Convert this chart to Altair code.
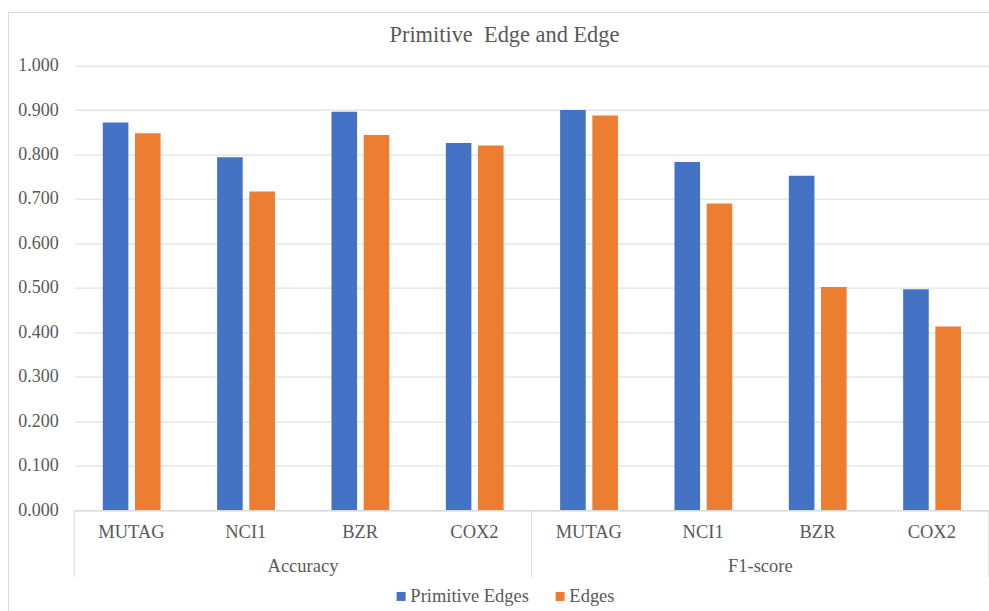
import altair as alt
import pandas as pd

# Scores per dataset, grouped by metric
metrics = ["Accuracy", "F1-score"]
datasets = ["MUTAG", "NCI1", "BZR", "COX2"]
series = ["Primitive Edges", "Edges"]
primitive_accuracy = [0.872, 0.794, 0.896, 0.826]
edges_accuracy = [0.848, 0.717, 0.844, 0.820]
primitive_f1 = [0.900, 0.783, 0.752, 0.497]
edges_f1 = [0.888, 0.690, 0.502, 0.413]
y_ticks = [0.0, 0.1, 0.2, 0.3, 0.4, 0.5, 0.6, 0.7, 0.8, 0.9, 1.0]

BLUE = "#4472C4"
ORANGE = "#ED7D31"
GREY_TEXT = "#595959"
GREY_LINE = "#D9D9D9"
FONT = "Liberation Serif"

W, H = 914.8, 444.5

values_by = {
    ("Accuracy", "Primitive Edges"): primitive_accuracy,
    ("Accuracy", "Edges"): edges_accuracy,
    ("F1-score", "Primitive Edges"): primitive_f1,
    ("F1-score", "Edges"): edges_f1,
}

keys = [f"{m}|{d}" for m in metrics for d in datasets]
rows = []
for m in metrics:
    for s in series:
        for d, v in zip(datasets, values_by[(m, s)]):
            rows.append({"key": f"{m}|{d}", "metric": m, "dataset": d,
                         "series": s, "value": v})
df = pd.DataFrame(rows)

x_scale = alt.Scale(domain=keys, paddingInner=0, paddingOuter=0)

bars = alt.Chart(df).mark_bar().encode(
    x=alt.X("key:N", scale=x_scale, sort=keys, title=None,
            axis=alt.Axis(labelExpr="split(datum.value, '|')[1]",
                          labelAngle=0, ticks=False, domainColor=GREY_LINE,
                          domainWidth=1, labelFont=FONT, labelFontSize=18.5,
                          labelColor=GREY_TEXT, labelPadding=12)),
    xOffset=alt.XOffset("series:N", sort=series,
                        scale=alt.Scale(domain=series, range=[28.5, 86.3],
                                        paddingInner=0.205, paddingOuter=0)),
    y=alt.Y("value:Q", scale=alt.Scale(domain=[0, 1], nice=False), title=None,
            axis=alt.Axis(values=y_ticks, format=".3f", domain=False,
                          ticks=False, gridColor=GREY_LINE, gridWidth=1,
                          labelFont=FONT, labelFontSize=18,
                          labelColor=GREY_TEXT, labelPadding=16)),
    color=alt.Color("series:N", sort=series,
                    scale=alt.Scale(domain=series, range=[BLUE, ORANGE]),
                    legend=alt.Legend(title=None, orient="none",
                                      direction="horizontal",
                                      legendX=317.6, legendY=521.5,
                                      symbolType="square", symbolSize=81,
                                      symbolStrokeWidth=0, labelOffset=0,
                                      columnPadding=21, labelFont=FONT,
                                      labelFontSize=18.5,
                                      labelColor=GREY_TEXT)),
)

# Group separators on the two-level category axis
sep_left = pd.DataFrame({"key": [f"{m}|{datasets[0]}" for m in metrics]})
sep_right = pd.DataFrame({"key": [f"{metrics[-1]}|{datasets[-1]}"]})

def separators(data, band_pos):
    return alt.Chart(data).mark_rule(color=GREY_LINE, strokeWidth=1).encode(
        x=alt.X("key:N", scale=x_scale, bandPosition=band_pos),
        y=alt.value(H),
        y2=alt.value(H + 67),
    )

# Metric names centred under each group of datasets
group_labels = pd.DataFrame({
    "key": [f"{m}|{datasets[2]}" for m in metrics],
    "metric": metrics,
})
group_text = alt.Chart(group_labels).mark_text(
    font=FONT, fontSize=18.5, color=GREY_TEXT, baseline="middle", align="center"
).encode(
    x=alt.X("key:N", scale=x_scale, bandPosition=0),
    y=alt.value(H + 56),
    text="metric:N",
)

# Chart-area frame
frame = alt.Chart(pd.DataFrame({"f": [0]})).mark_rect(
    fill="transparent", stroke=GREY_LINE, strokeWidth=1
).encode(
    x=alt.value(-65.8), y=alt.value(-53.1),
    x2=alt.value(W + 40), y2=alt.value(H + 140),
)

chart = alt.layer(
    frame, bars, separators(sep_left, 0), separators(sep_right, 1), group_text
).properties(
    width=W,
    height=H,
    background="white",
    title=alt.TitleParams("Primitive\u00a0 Edge and Edge", font=FONT,
                          fontSize=22.4, fontWeight="normal", color=GREY_TEXT,
                          anchor="middle", frame="group", dx=-27.2,
                          offset=-34),
    autosize=alt.AutoSizeParams(type="none"),
    padding={"left": 74.3, "top": 65.6, "right": 0, "bottom": 101},
).configure_view(
    stroke=None
).configure_legend(
    labelFont=FONT, labelFontSize=18.5, labelColor=GREY_TEXT
)

chart.save("out.html", embed_options={"renderer": "svg", "actions": False})
